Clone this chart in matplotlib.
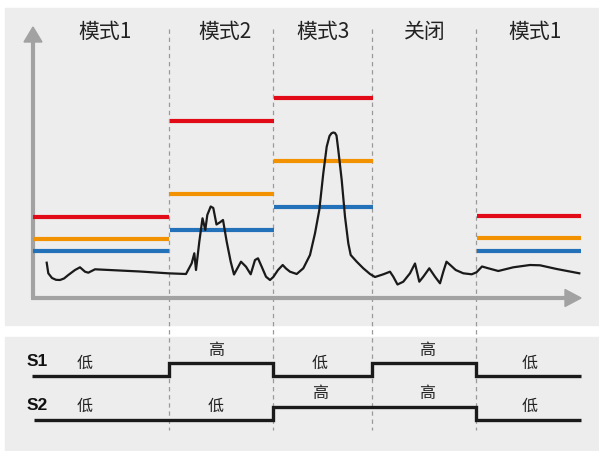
import matplotlib
matplotlib.use("Agg")
import matplotlib.pyplot as plt
from matplotlib.patches import Rectangle, Polygon

plt.rcParams['font.family'] = ['Noto Sans CJK SC', 'DejaVu Sans']

# ---------------- data ----------------
modes = ['模式1', '模式2', '模式3', '关闭', '模式1']
boundaries = [0, 136, 240, 339, 443, 548]          # time of mode changes
red_level = [81, 177, 200, None, 82]
orange_level = [59, 104, 137, None, 60]
blue_level = [47, 68, 91, None, 47]

signal_t = [13.7, 15.3, 19, 23, 27, 31, 35.3, 42, 47, 52, 55.3, 62, 107, 135, 153,
            158.7, 161.3, 163, 166.3, 169.5, 172.3, 174.3, 177.7, 180.3, 183.5, 187, 190,
            193.7, 197.7, 201, 208, 213, 217.7, 222, 225, 228.7, 233, 237, 240.3, 245,
            249.7, 253, 257, 263.7, 270.3, 277, 282, 286.3, 290.3, 293.7, 296.5, 298.5,
            300.3, 302, 303.5, 305.3, 308.7, 312, 315.3, 317.7, 323.7, 330.3, 337, 342,
            350.3, 357, 360.3, 364.5, 370.3, 377, 382, 386.3, 390.3, 396.3, 402, 407,
            410.3, 413.5, 418, 422.7, 430.3, 438.7, 443.5, 449, 455.3, 465.3, 480.3, 497,
            507, 523.7, 546.3]
signal_y = [35.3, 24.7, 20, 18.2, 18, 19.5, 23, 28, 30.7, 26.3, 25.3, 28.7, 26.5, 24.7, 24,
            34.7, 44.7, 28, 56.3, 79.7, 68, 83, 91.5, 90, 73.5, 75.7, 78,
            56.3, 36.3, 23.5, 36.3, 31.3, 23.7, 38, 39.7, 31.3, 21.3, 18, 21, 28,
            33, 29.5, 26.3, 24, 29.7, 43, 64.7, 88, 124.7, 151.3, 162, 164.7,
            165.5, 165, 162.5, 148, 118, 81.3, 54.7, 43, 36.3, 29.7, 24, 21,
            23.7, 26.3, 21.3, 13.5, 16.3, 24.7, 34.5, 16.3, 21.3, 29.7, 21.3, 14.7,
            26.3, 36.3, 32.3, 28, 24.7, 23.7, 25.7, 31.5, 29.7, 27, 30.7, 33,
            32.7, 29, 24.7]

s1_states = [0, 1, 0, 1, 0]
s2_states = [0, 0, 1, 1, 0]
state_names = ['低', '高']

# ---------------- layout ----------------
fig = plt.figure(figsize=(5.99, 4.51), dpi=100)
ax = fig.add_axes([0, 0, 1, 1])
ax.set_xlim(-33, 566)
ax.set_ylim(-153, 298)
ax.axis('off')

panel = '#ededed'
ax.add_patch(Rectangle((-28, -27), 600, 317, color=panel, zorder=0))
ax.add_patch(Rectangle((-28, -160), 600, 121, color=panel, zorder=0))

grey = '#a2a2a2'
# axes arrows
ax.plot([0, 0], [0, 258], color=grey, lw=3, solid_capstyle='butt', zorder=2)
ax.add_patch(Polygon([[-9, 256], [9, 256], [0, 271]], closed=True, color=grey, zorder=2))
ax.plot([-2, 534], [0, 0], color=grey, lw=3, solid_capstyle='butt', zorder=2)
ax.add_patch(Polygon([[532, 8.5], [532, -8.5], [548, 0]], closed=True, color=grey, zorder=2))

# dashed separators
for b in boundaries[1:-1]:
    ax.plot([b, b], [269, -132], color='#9a9a9a', lw=0.9, ls=(0, (3.5, 3)), zorder=1)

# mode labels
label_x = [72, 192, 290, 392, 502]
for name, lx in zip(modes, label_x):
    ax.text(lx, 266, name, ha='center', va='center', fontsize=15, color='#222222', zorder=3)

# levels
level_colors = {'red': '#e30a17', 'orange': '#f39200', 'blue': '#2372b9'}
for levels, c in [(red_level, level_colors['red']), (orange_level, level_colors['orange']),
                  (blue_level, level_colors['blue'])]:
    for i, v in enumerate(levels):
        if v is None:
            continue
        x0 = boundaries[i] + (1 if i > 0 else 0)
        x1 = boundaries[i + 1] + (1 if 0 < i < 3 else 0)
        ax.plot([x0, x1], [v, v], color=c, lw=3, solid_capstyle='butt', zorder=3)

# signal
ax.plot(signal_t, signal_y, color='#1a1a1a', lw=1.6, zorder=4, solid_joinstyle='round')

# digital waveforms
def wave(states, y_low, y_high, x_start):
    xs, ys = [], []
    for i, s in enumerate(states):
        y = y_high if s else y_low
        x0 = x_start if i == 0 else boundaries[i]
        xs += [x0, boundaries[i + 1]]
        ys += [y, y]
    ax.plot(xs, ys, color='#1a1a1a', lw=2.4, solid_joinstyle='miter', solid_capstyle='butt', zorder=4)

wave(s1_states, -78, -65.3, -1)
wave(s2_states, -122, -109.3, 1)

state_x = [52, 183, 287, 394, 497]
for i, s in enumerate(s1_states):
    y = (-65.3 if s else -78) + 13
    ax.text(state_x[i], y, state_names[s], ha='center', va='center', fontsize=11.5, color='#222222', zorder=5)
for i, s in enumerate(s2_states):
    y = (-109.3 if s else -122) + 13.5
    ax.text(state_x[i], y, state_names[s], ha='center', va='center', fontsize=11.5, color='#222222', zorder=5)

ax.text(4, -64, 'S1', ha='center', va='center', fontsize=12.5, fontweight='bold',
        family=['Liberation Sans', 'DejaVu Sans'], color='#111111', zorder=5)
ax.text(4, -108, 'S2', ha='center', va='center', fontsize=12.5, fontweight='bold',
        family=['Liberation Sans', 'DejaVu Sans'], color='#111111', zorder=5)

fig.savefig('out.png', dpi=100)
